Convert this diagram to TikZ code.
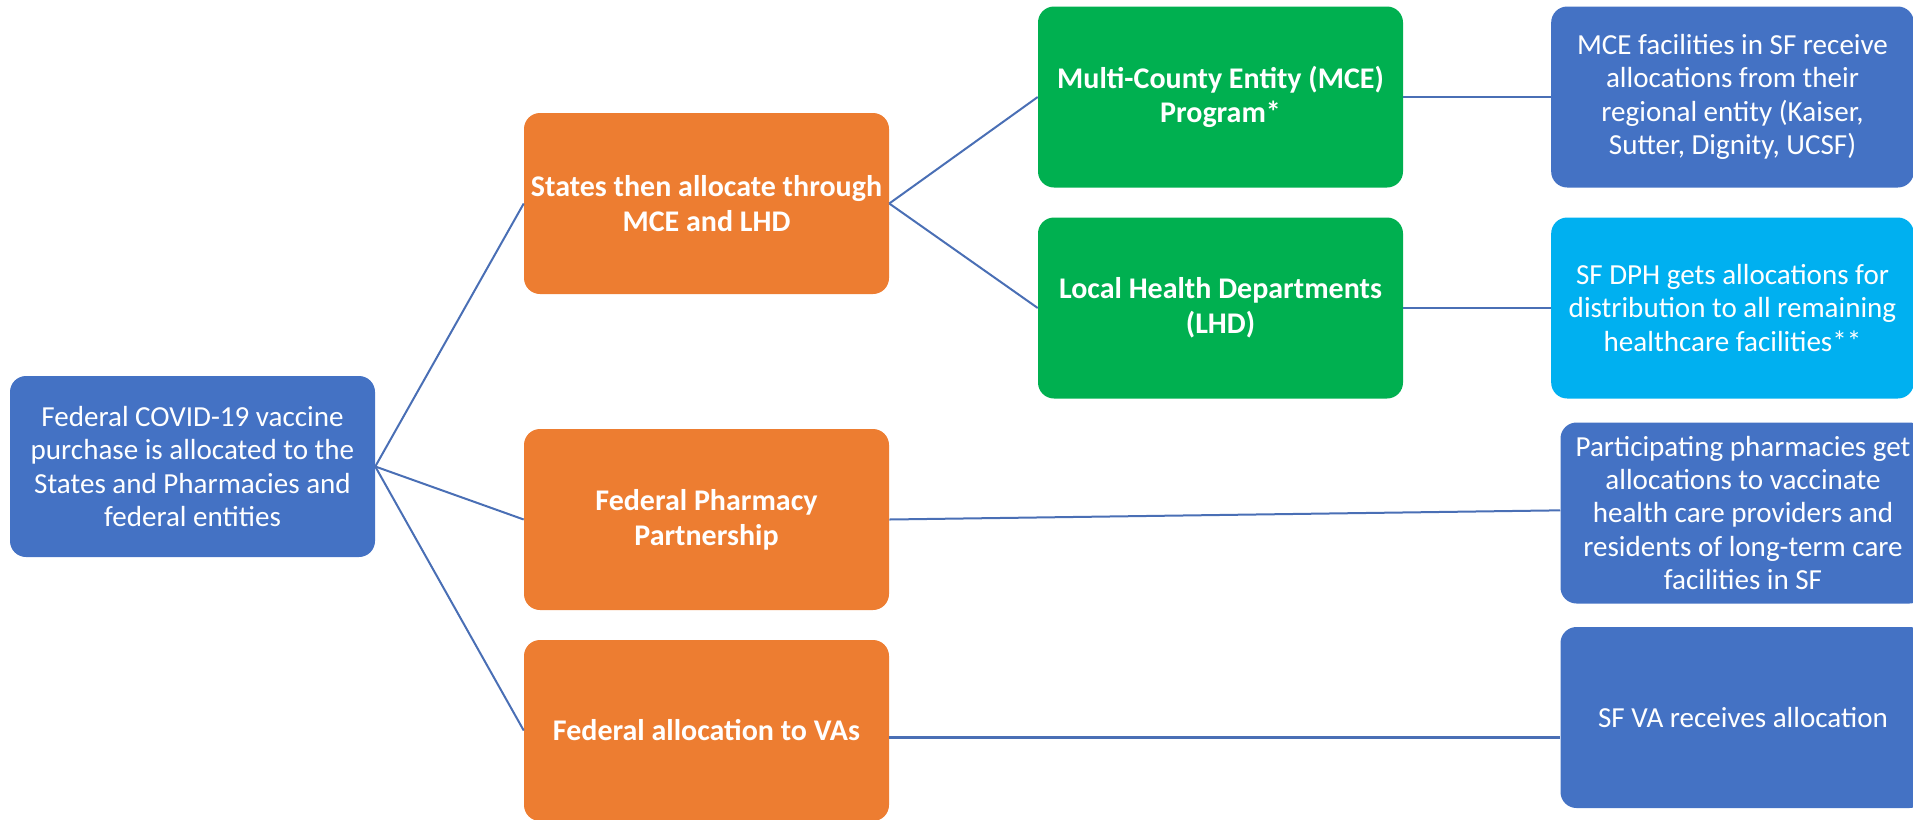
\documentclass[tikz,border=0pt]{standalone}
\usepackage{fontspec}
\setmainfont{Carlito}
\definecolor{cblue}{HTML}{4472C4}
\definecolor{corange}{HTML}{ED7D31}
\definecolor{cgreen}{HTML}{00B050}
\definecolor{clight}{HTML}{00B0F0}
\definecolor{cline}{HTML}{4A6FB5}
\begin{document}
\begin{tikzpicture}[x=0.75pt,y=-0.75pt,
  box/.style={rounded corners=12pt, minimum width=273.75pt, minimum height=135.75pt,
    text=white, align=center, inner sep=2pt},
  plain/.style={box, font=\fontsize{21.8}{25}\selectfont},
  bold/.style={box, font=\fontsize{22.5}{26}\selectfont\bfseries},
  conn/.style={draw=cline, line width=1.5pt}]
\useasboundingbox (0,0) rectangle (1913,819);
\node[plain, fill=cblue] (root) at (192.5,466.5) {Federal COVID-19 vaccine\\purchase is allocated to the\\States and Pharmacies and\\federal entities};
\node[bold, fill=corange] (states) at (706.5,203.5) {States then allocate through\\MCE and LHD};
\node[bold, fill=corange] (pharm) at (706.5,519.5) {Federal Pharmacy\\Partnership};
\node[bold, fill=corange] (va) at (706.5,730.5) {Federal allocation to VAs};
\node[bold, fill=cgreen] (mce) at (1220.5,97) {Multi-County Entity (MCE)\\Program*};
\node[bold, fill=cgreen] (lhd) at (1220.5,308) {Local Health Departments\\(LHD)};
\node[plain, fill=cblue, minimum width=272pt] (mcefac) at (1732.5,97) {MCE facilities in SF receive\\allocations from their\\regional entity (Kaiser,\\Sutter, Dignity, UCSF)};
\node[plain, fill=clight, minimum width=272pt] (dph) at (1732.5,308) {SF DPH gets allocations for\\distribution to all remaining\\healthcare facilities**};
\node[plain, fill=cblue] (pharmsf) at (1743,513) {Participating pharmacies get\\allocations to vaccinate\\health care providers and\\residents of long-term care\\facilities in SF};
\node[plain, fill=cblue] (sfva) at (1743,717.5) {SF VA receives allocation};
\draw[conn] (root.east) -- (states.west);
\draw[conn] (root.east) -- (pharm.west);
\draw[conn] (root.east) -- (va.west);
\draw[conn] (states.east) -- (mce.west);
\draw[conn] (states.east) -- (lhd.west);
\draw[conn] (mce.east) -- (mcefac.west);
\draw[conn] (lhd.east) -- (dph.west);
\draw[conn] (pharm.east) -- ([yshift=2pt]pharmsf.west);
\draw[conn, line width=2.4pt] ([yshift=-5.5pt]va.east) -- ([yshift=-5.5pt]va.east -| sfva.west);
\end{tikzpicture}
\end{document}
